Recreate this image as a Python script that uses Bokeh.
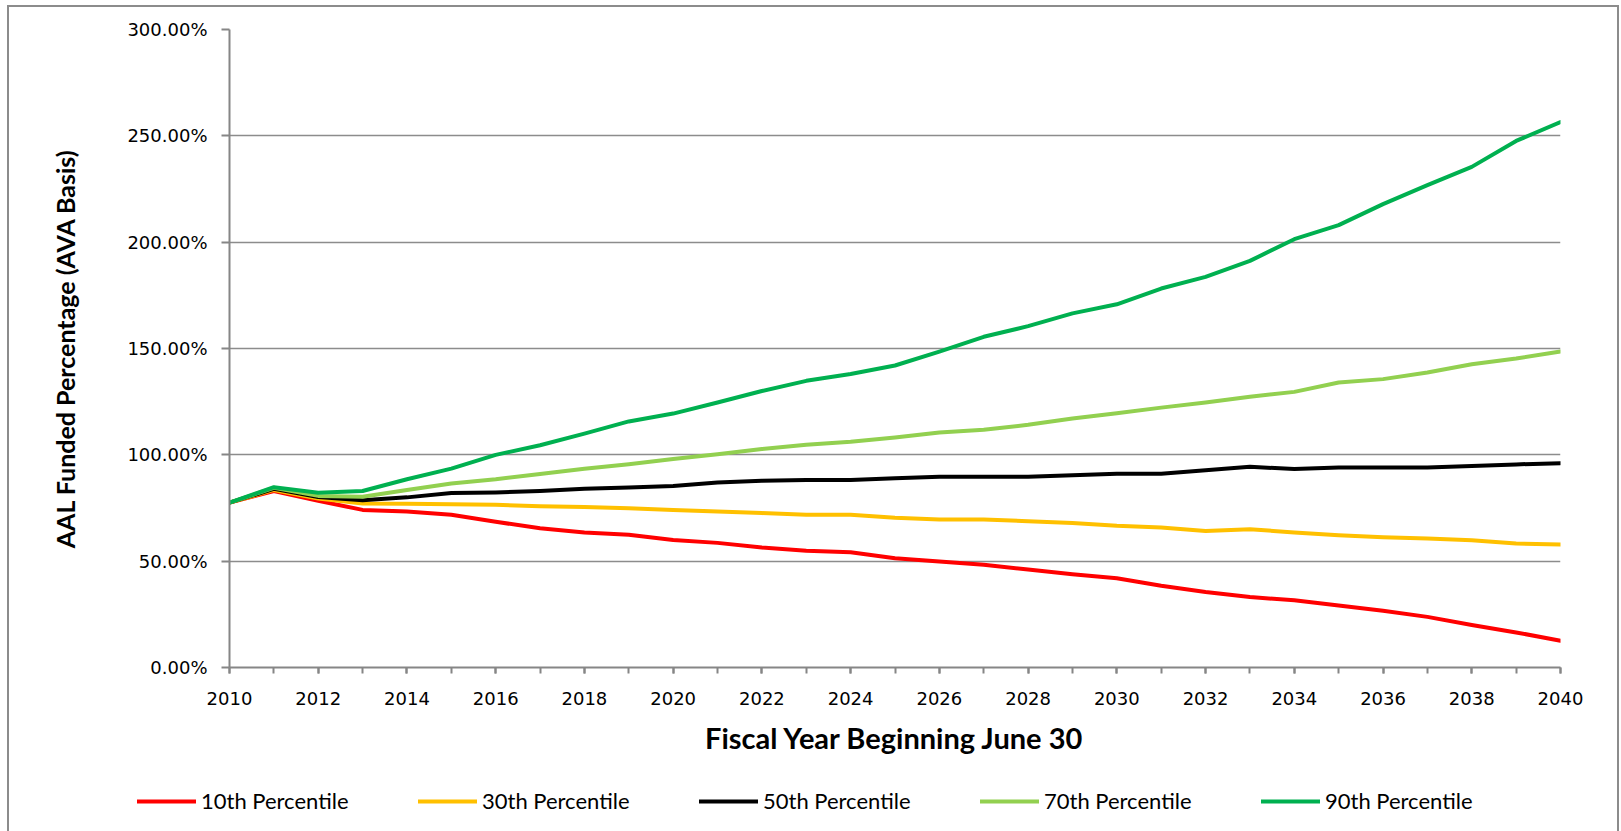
from bokeh.plotting import figure
from bokeh.layouts import column
from bokeh.models import FixedTicker, NumeralTickFormatter, Legend, LegendItem, Range1d
from bokeh.embed import file_html
from bokeh.resources import INLINE

years = list(range(2010, 2041))

series_names = ["10th Percentile", "30th Percentile", "50th Percentile", "70th Percentile", "90th Percentile"]
series_colors = ["#FF0000", "#FFC000", "#000000", "#92D050", "#00B050"]

p10 = [77.5, 83.0, 78.4, 74.1, 73.4, 71.8, 68.5, 65.5, 63.5, 62.4, 60.0,
       58.6, 56.4, 54.9, 54.2, 51.4, 49.8, 48.3, 46.1, 43.9, 42.0,
       38.4, 35.5, 33.1, 31.6, 29.2, 26.7, 23.8, 20.0, 16.5, 12.6]
p30 = [77.5, 83.5, 79.5, 77.1, 77.0, 76.8, 76.5, 75.8, 75.5, 74.9, 74.1,
       73.3, 72.6, 71.8, 71.8, 70.4, 69.6, 69.6, 68.8, 68.0, 66.6,
       65.8, 64.2, 65.0, 63.5, 62.2, 61.3, 60.7, 59.8, 58.3, 57.8]
p50 = [77.5, 84.0, 80.2, 78.7, 80.0, 82.0, 82.3, 83.0, 84.0, 84.6, 85.4,
       87.0, 87.8, 88.2, 88.2, 89.0, 89.7, 89.7, 89.7, 90.4, 91.1,
       91.1, 92.7, 94.4, 93.3, 94.1, 94.1, 94.1, 94.8, 95.5, 96.1]
p70 = [77.5, 84.5, 80.7, 80.3, 83.5, 86.5, 88.5, 91.0, 93.5, 95.6, 98.0,
       100.3, 102.7, 104.7, 106.1, 108.1, 110.5, 111.8, 114.1, 117.1, 119.6,
       122.2, 124.6, 127.3, 129.6, 134.0, 135.6, 138.7, 142.6, 145.3, 148.6]
p90 = [77.5, 84.8, 82.2, 83.0, 88.5, 93.5, 100.0, 104.5, 110.0, 115.7, 119.4,
       124.6, 130.0, 134.8, 138.0, 142.0, 148.5, 155.5, 160.5, 166.5, 170.8,
       178.2, 183.7, 191.2, 201.4, 208.0, 217.9, 226.8, 235.4, 247.6, 256.5]

y_ticks = [0, 0.5, 1.0, 1.5, 2.0, 2.5, 3.0]
x_major = list(range(2010, 2041, 2))

p = figure(width=1608, height=760, output_backend="svg", toolbar_location=None,
           x_range=Range1d(2010, 2040), y_range=Range1d(0, 3.0),
           min_border_left=220, min_border_right=57, min_border_top=22, min_border_bottom=100,
           background_fill_color="white", border_fill_color="white")
p.outline_line_color = None

p.xaxis.ticker = FixedTicker(ticks=x_major, minor_ticks=years)
p.yaxis.ticker = FixedTicker(ticks=y_ticks, minor_ticks=[])
p.yaxis.formatter = NumeralTickFormatter(format="0.00%")
for ax in (p.xaxis[0], p.yaxis[0]):
    ax.axis_line_color = "#868686"
    ax.axis_line_width = 2
    ax.major_tick_line_color = "#868686"
    ax.major_tick_line_width = 2
    ax.minor_tick_line_color = "#868686"
    ax.minor_tick_line_width = 2
    ax.major_tick_in = 0
    ax.minor_tick_in = 0
    ax.major_label_text_font = "DejaVu Sans"
    ax.major_label_text_font_size = "18px"
    ax.major_label_text_color = "#000000"
    ax.axis_label_text_font = "Lato"
    ax.axis_label_text_font_style = "bold"
    ax.axis_label_text_color = "#000000"
p.yaxis.major_tick_out = 8
p.yaxis.major_label_standoff = 14
p.xaxis.major_tick_out = 6
p.xaxis.minor_tick_out = 6
p.xaxis.major_label_standoff = 18
p.yaxis.axis_label = "AAL Funded Percentage (AVA Basis)"
p.yaxis.axis_label_text_font_size = "25px"
p.yaxis.axis_label_standoff = 44
p.xaxis.axis_label = "Fiscal Year Beginning June 30"
p.xaxis.axis_label_text_font_size = "29px"
p.xaxis.axis_label_standoff = 12

p.xgrid.grid_line_color = None
p.ygrid.grid_line_color = "#8c8c8c"
p.ygrid.grid_line_width = 1.5

series = [p10, p30, p50, p70, p90]

# legend strip below the chart
leg = figure(width=1608, height=64, output_backend="svg", toolbar_location=None,
             x_range=Range1d(0, 1), y_range=Range1d(0, 1),
             x_axis_type=None, y_axis_type=None,
             min_border_left=0, min_border_right=0, min_border_top=0, min_border_bottom=0,
             background_fill_color="white", border_fill_color="white")
leg.outline_line_color = None
leg.grid.visible = False
for fig in (p, leg):
    if hasattr(fig, "frame_align"):
        fig.frame_align = False

items = []
for name, color, vals in zip(series_names, series_colors, series):
    fr = [v / 100.0 for v in vals]
    p.line(years, fr, line_color=color, line_width=4, line_join="round", line_cap="round")
    r = leg.line(years, fr, line_color=color, line_width=4, line_cap="round", visible=False)
    items.append(LegendItem(label=name, renderers=[r]))

legend = Legend(items=items, orientation="horizontal", location=(128, 17),
                glyph_width=59, glyph_height=20, label_standoff=5, label_width=171,
                spacing=46, padding=0, margin=0, border_line_color=None,
                background_fill_alpha=0, inactive_fill_alpha=0,
                label_text_font="Lato",
                label_text_font_size="22px", label_text_color="#000000")
leg.add_layout(legend, "center")

layout = column(p, leg, spacing=0,
                styles={"margin-left": "7px", "margin-top": "5px", "border": "2px solid #8c8c8c"})

open("out.html", "w").write(file_html(layout, INLINE))
